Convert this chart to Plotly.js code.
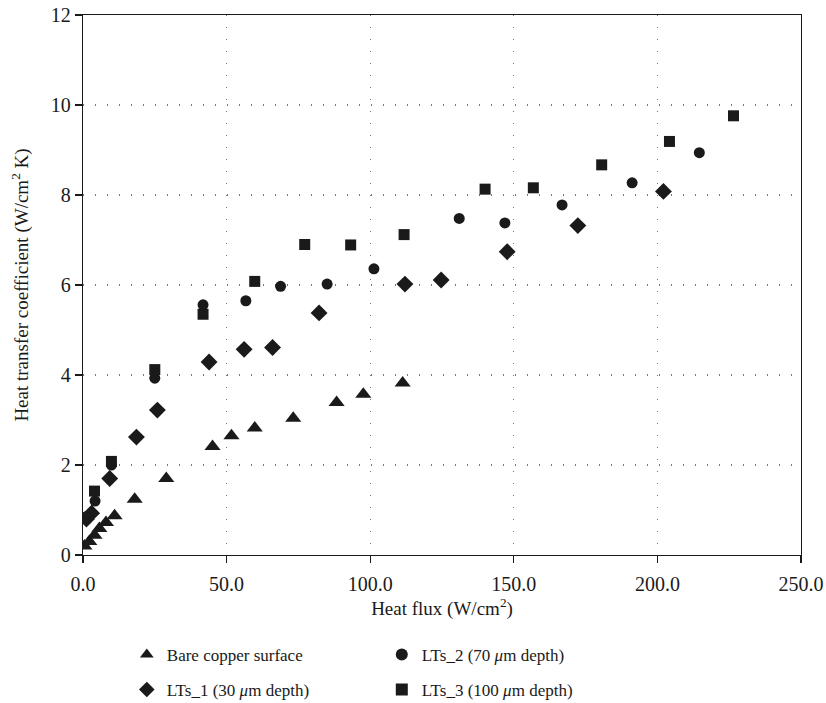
<!DOCTYPE html>
<html>
<head>
<meta charset="utf-8">
<script src="https://cdn.plot.ly/plotly-3.0.1.min.js"></script>
<style>html,body{margin:0;padding:0;background:#fff;}#chart{width:826px;height:703px;}</style>
</head>
<body>
<div id="chart"></div>
<script>
// Data
const bareX = [0.5, 2.2, 4.0, 5.7, 8.0, 11.0, 18.0, 29.0, 45.1, 51.7, 59.8, 73.2, 88.3, 97.6, 111.3];
const bareY = [0.2, 0.3, 0.44, 0.59, 0.72, 0.87, 1.24, 1.70, 2.41, 2.65, 2.82, 3.04, 3.39, 3.57, 3.82];

const lts1X = [1.2, 3.0, 9.3, 18.6, 25.9, 43.9, 56.1, 66.0, 82.2, 112.1, 124.7, 147.7, 172.3, 202.1];
const lts1Y = [0.8, 0.93, 1.70, 2.62, 3.22, 4.29, 4.57, 4.61, 5.38, 6.02, 6.11, 6.74, 7.32, 8.08];

const lts2X = [1.2, 4.2, 9.9, 25.0, 41.8, 56.7, 68.8, 85.0, 101.3, 131.0, 146.9, 166.8, 191.2, 214.6];
const lts2Y = [0.85, 1.2, 2.0, 3.93, 5.56, 5.65, 5.97, 6.02, 6.36, 7.48, 7.38, 7.78, 8.27, 8.94];

const lts3X = [0.6, 4.0, 9.9, 25.0, 41.8, 59.8, 77.2, 93.2, 111.8, 140.0, 156.8, 180.6, 204.2, 226.5];
const lts3Y = [0.82, 1.42, 2.08, 4.12, 5.35, 6.08, 6.90, 6.89, 7.12, 8.13, 8.16, 8.67, 9.19, 9.76];

const seriesNames = ['Bare copper surface', 'LTs_1 (30 <i>μ</i>m depth)', 'LTs_2 (70 <i>μ</i>m depth)', 'LTs_3 (100 <i>μ</i>m depth)'];
const xTickVals = [0, 50, 100, 150, 200, 250];
const yTickVals = [0, 2, 4, 6, 8, 10, 12];

const ink = '#1a1a1a';
const serif = 'Liberation Serif';

const traces = [
  {x: bareX, y: bareY, name: seriesNames[0], mode: 'markers', type: 'scatter', legend: 'legend',
   marker: {symbol: 'triangle-up', size: 14, color: ink}},
  {x: lts2X, y: lts2Y, name: seriesNames[2], mode: 'markers', type: 'scatter', legend: 'legend',
   marker: {symbol: 'circle', size: 11, color: ink}},
  {x: lts1X, y: lts1Y, name: seriesNames[1], mode: 'markers', type: 'scatter', legend: 'legend2',
   marker: {symbol: 'diamond', size: 13, color: ink}},
  {x: lts3X, y: lts3Y, name: seriesNames[3], mode: 'markers', type: 'scatter', legend: 'legend2',
   marker: {symbol: 'square', size: 11, color: ink}}
];

const legendCommon = {
  orientation: 'h', xanchor: 'left', yanchor: 'middle', x: 0.061,
  font: {family: serif, size: 17, color: ink},
  entrywidth: 210, entrywidthmode: 'pixels', bgcolor: 'rgba(0,0,0,0)', itemsizing: 'constant'
};

const layout = {
  width: 826, height: 703,
  margin: {l: 83.3, r: 25.3, t: 15, b: 148, autoexpand: false},
  paper_bgcolor: '#fff', plot_bgcolor: '#fff',
  font: {family: serif, size: 17, color: ink},
  showlegend: true,
  xaxis: {
    range: [0, 250], tickvals: xTickVals, tickformat: '.1f',
    showline: true, mirror: true, linecolor: ink, linewidth: 1.3,
    ticks: 'outside', ticklen: 7, tickcolor: ink, tickwidth: 1.3,
    ticklabelstandoff: 4,
    showgrid: true, gridcolor: '#777', gridwidth: 1.2, griddash: '1px,11px',
    zeroline: false,
    tickfont: {family: serif, size: 20, color: ink},
    title: {text: 'Heat flux (W/cm<sup>2</sup>)', font: {family: serif, size: 19, color: ink}, standoff: 3}
  },
  yaxis: {
    range: [0, 12], tickvals: yTickVals,
    showline: true, mirror: true, linecolor: ink, linewidth: 1.3,
    ticks: 'outside', ticklen: 7, tickcolor: ink, tickwidth: 1.3,
    showgrid: true, gridcolor: '#777', gridwidth: 1.2, griddash: '1px,11px',
    zeroline: false,
    tickfont: {family: serif, size: 20, color: ink},
    title: {text: 'Heat transfer coefficient (W/cm<sup>2</sup> K)', font: {family: serif, size: 19, color: ink}, standoff: 17}
  },
  legend: Object.assign({}, legendCommon, {y: -0.185}),
  legend2: Object.assign({}, legendCommon, {y: -0.25})
};

Plotly.newPlot('chart', traces, layout, {displayModeBar: false, staticPlot: true});
</script>
</body>
</html>
